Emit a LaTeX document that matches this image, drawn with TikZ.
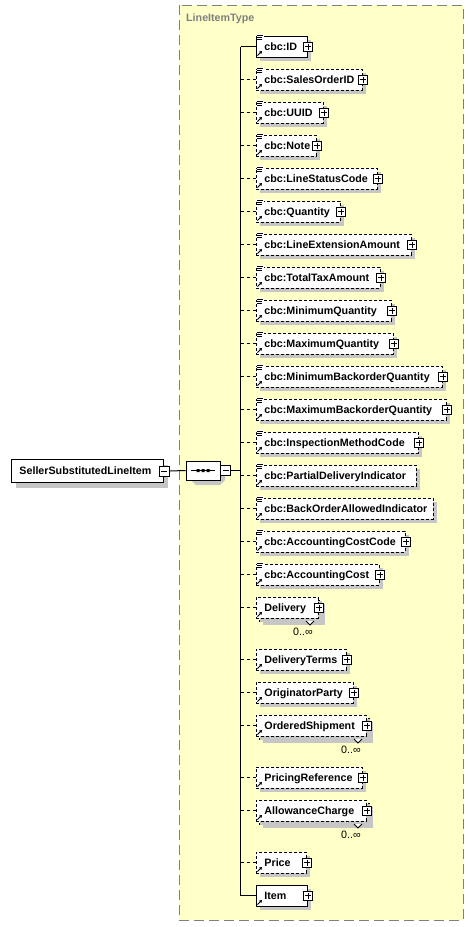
\documentclass[tikz,border=0pt]{standalone}
\usepackage{fontspec}
\setmainfont{Liberation Sans}
\usetikzlibrary{shapes.misc,arrows.meta}
\definecolor{yel}{RGB}{255,255,200}
\definecolor{shd}{RGB}{198,198,198}
\definecolor{ttl}{RGB}{128,128,128}
\tikzset{
 ebox/.style={draw=black, fill=white, line width=0.9pt, minimum height=21pt, inner ysep=0pt, inner xsep=8pt,
   align=left, anchor=west, text height=7.5pt, text depth=0pt, font=\fontsize{10.7}{12}\selectfont\bfseries},
 optbox/.style={ebox, dash pattern=on 3pt off 2pt},
 reqbox/.style={ebox},
 pbox/.style={draw=black, fill=white, line width=0.8pt, minimum size=9pt, inner sep=0pt, solid},
 conn/.style={line width=1pt},
 optconn/.style={conn, dash pattern=on 3pt off 3pt},
 mult/.style={font=\fontsize{10.7}{12}\selectfont, inner sep=0pt},
}
% #1 name, #2 y, #3 right x, #4 label, #5 style, #6 simple icon, #7 plus
\newcommand\E[7]{%
  \pgfmathsetmacro\tw{#3-256-16}%
  \fill[shd] (260,#2-6.5) rectangle (#3+4,#2+14.5);
  \node[#5, text width=\tw pt] (#1) at (256,#2) {#4};
  \ifnum#6=1
    \fill[white] (257,#2-12.5) rectangle (263.5,#2-6);
    \draw[line width=0.7pt] (257,#2-11.5) -- (263,#2-11.5) (257,#2-9.5) -- (262,#2-9.5) (257,#2-7.5) -- (262,#2-7.5);
  \fi
  \draw[line width=0.9pt, -{Triangle[length=2.5pt,width=3pt]}] (257.5,#2+9) -- (262,#2+4.5);
  \ifnum#7=1
    \node[pbox] (#1p) at (#1.east) {};
    \draw[line width=0.8pt] ([xshift=-3pt]#1p.center) -- ([xshift=3pt]#1p.center)
      ([yshift=-3pt]#1p.center) -- ([yshift=3pt]#1p.center);
  \fi
}
% back box of a repeated element: #1 y, #2 right x
\newcommand\Back[2]{%
  \fill[shd] (263,#1-3.5) rectangle (#2+7,#1+17.5);
  \draw[line width=0.9pt, dash pattern=on 3pt off 2pt, fill=white] (259,#1-7.5) rectangle (#2+3,#1+13.5);
}
% notch and multiplicity: #1 name, #2 y, #3 right x
\newcommand\Notch[3]{%
  \filldraw[line width=0.8pt, fill=white] (#3-12,#2+13.5) -- (#3-8,#2+17.5) -- (#3-4,#2+13.5);
  \node[mult] (#1m) at (#3-15,#2+24) {0..∞};
}
\begin{document}
\begin{tikzpicture}[x=1pt,y=-1pt]
\useasboundingbox (0,0) rectangle (474,927);
\fill[white] (0,0) rectangle (474,927);
% type panel
\draw[draw=ttl, fill=yel, line width=1pt, dash pattern=on 10pt off 5pt] (179,5) rectangle (463,920);
\node[anchor=base west, text=ttl, inner sep=0pt, font=\fontsize{10.7}{12}\selectfont\bfseries] (title) at (186,21.5) {LineItemType};

% root element
\fill[shd] (16,465) rectangle (168,488);
\node[draw=black, fill=white, line width=0.9pt, minimum height=23pt, inner ysep=0pt, inner xsep=8pt, align=left,
  anchor=west, text width=136pt, text height=7.5pt, text depth=0pt, font=\fontsize{10.7}{12}\selectfont\bfseries]
  (root) at (11,471) {SellerSubstitutedLineItem};
\node[pbox, minimum size=10pt] (rootm) at (root.east) {};
\draw[line width=0.8pt] ([xshift=-3pt]rootm.center) -- ([xshift=3pt]rootm.center);

% sequence compositor
\fill[shd] (191,470) -- (196,465) -- (220,465) -- (225,470) -- (225,480) -- (220,485) -- (196,485) -- (191,480) -- cycle;
\node[chamfered rectangle, chamfered rectangle xsep=5pt, draw=black, fill=white, line width=0.9pt,
  minimum width=34pt, minimum height=19pt, inner sep=0pt] (seq) at (203,470.5) {};
\draw[line width=1pt] (191,470.5) -- (215,470.5);
\fill (196.5,469) rectangle (199.5,472) (201.5,469) rectangle (204.5,472) (206.5,469) rectangle (209.5,472);
\node[pbox, minimum size=10pt, anchor=west] (seqm) at (seq.east) {};
\draw[line width=0.8pt] ([xshift=-3pt]seqm.center) -- ([xshift=3pt]seqm.center);

\coordinate (spine) at (240.5,470.5);
\coordinate (top) at (240.5,46.5);
\coordinate (bot) at (240.5,895.5);
\draw[conn] (rootm.east) -- (seq.west);
\draw[conn] (seqm.east) -- (spine);
\draw[conn] (top) -- (bot);

% children
\E{id}{46.5}{307}{cbc:ID}{reqbox}{1}{1}
\E{soid}{79.5}{362}{cbc:SalesOrderID}{optbox}{1}{1}
\E{uuid}{112.5}{323}{cbc:UUID}{optbox}{1}{1}
\E{note}{145.5}{316}{cbc:Note}{optbox}{1}{1}
\E{lsc}{178.5}{377}{cbc:LineStatusCode}{optbox}{1}{1}
\E{qty}{211.5}{340}{cbc:Quantity}{optbox}{1}{1}
\E{lea}{244.5}{411}{cbc:LineExtensionAmount}{optbox}{1}{1}
\E{tta}{277.5}{380}{cbc:TotalTaxAmount}{optbox}{1}{1}
\E{minq}{310.5}{391}{cbc:MinimumQuantity}{optbox}{1}{1}
\E{maxq}{343.5}{393}{cbc:MaximumQuantity}{optbox}{1}{1}
\E{minbq}{376.5}{442}{cbc:MinimumBackorderQuantity}{optbox}{1}{1}
\E{maxbq}{409.5}{446}{cbc:MaximumBackorderQuantity}{optbox}{1}{1}
\E{imc}{442.5}{418}{cbc:InspectionMethodCode}{optbox}{1}{1}
\E{pdi}{475.5}{416}{cbc:PartialDeliveryIndicator}{optbox}{1}{0}
\E{boai}{508.5}{433}{cbc:BackOrderAllowedIndicator}{optbox}{1}{0}
\E{acc}{541.5}{405}{cbc:AccountingCostCode}{optbox}{1}{1}
\E{ac}{574.5}{379}{cbc:AccountingCost}{optbox}{1}{1}
\Back{607.5}{318}
\E{del}{607.5}{318}{Delivery}{optbox}{0}{1}
\Notch{del}{607.5}{318}
\E{dt}{659.5}{346}{DeliveryTerms}{optbox}{0}{1}
\E{op}{692.5}{353}{OriginatorParty}{optbox}{0}{1}
\Back{725.5}{366}
\E{os}{725.5}{366}{OrderedShipment}{optbox}{0}{1}
\Notch{os}{725.5}{366}
\E{pr}{777.5}{362}{PricingReference}{optbox}{0}{1}
\Back{810.5}{366}
\E{alc}{810.5}{366}{AllowanceCharge}{optbox}{0}{1}
\Notch{alc}{810.5}{366}
\E{price}{862.5}{306}{Price}{optbox}{0}{1}
\E{item}{895.5}{307}{Item}{reqbox}{0}{1}

% connectors to children
\foreach \n in {soid,uuid,note,lsc,qty,lea,tta,minq,maxq,minbq,maxbq,imc,pdi,boai,acc,ac,del,dt,op,os,pr,alc,price}
  \draw[optconn] (spine |- \n.west) -- (\n.west);
\foreach \n in {id,item}
  \draw[conn] (spine |- \n.west) -- (\n.west);
\end{tikzpicture}
\end{document}
